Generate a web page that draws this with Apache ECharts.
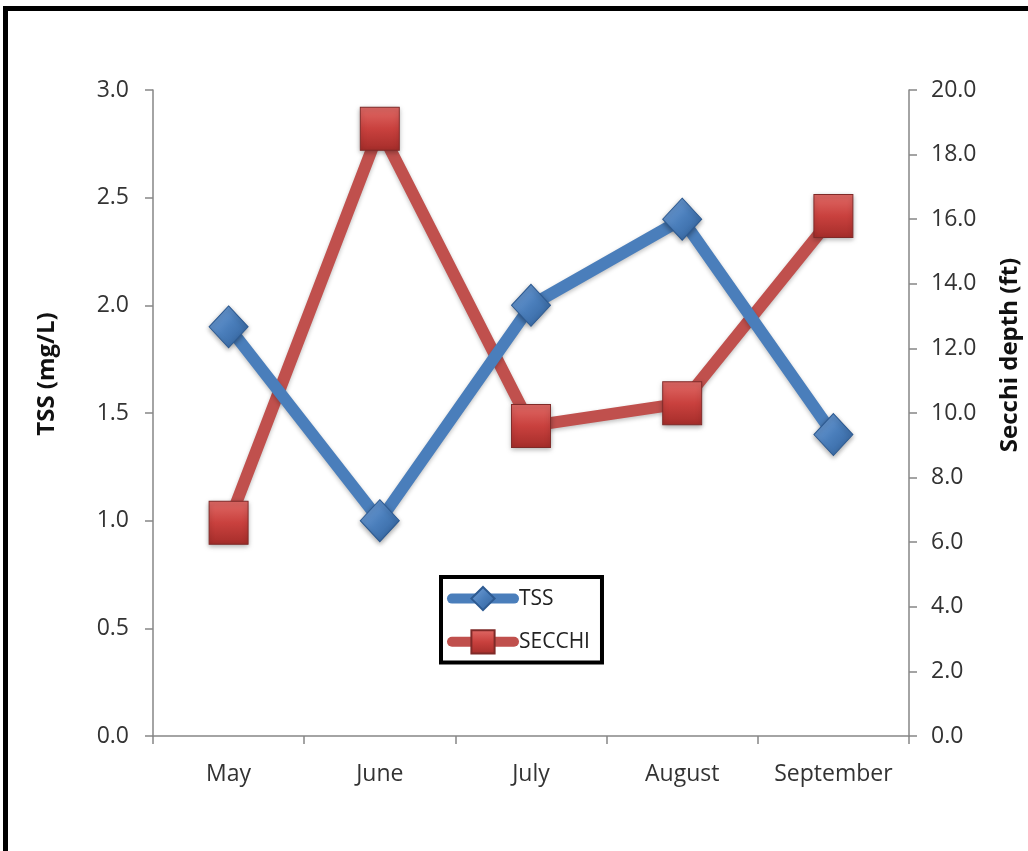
<!DOCTYPE html>
<html><head><meta charset="utf-8">
<script src="https://cdn.jsdelivr.net/npm/echarts@6/dist/echarts.min.js"></script>
<style>
html,body{margin:0;padding:0;width:1028px;height:851px;overflow:hidden;background:#fff;}
#frame{position:absolute;left:3px;top:6px;width:1100px;height:950px;border:5px solid #000;box-sizing:border-box;}
#c{position:absolute;left:0;top:0;width:1028px;height:851px;}
</style></head>
<body>
<div id="frame"></div>
<div id="c"></div>
<script>
const months = ['May','June','July','August','September'];
const tss = [1.9, 1.0, 2.0, 2.4, 1.4];
const secchi = [6.6, 18.8, 9.6, 10.3, 16.1];
const leftTicks = {min:0, max:3, interval:0.5};
const rightTicks = {min:0, max:20, interval:2};
const leftTitle = 'TSS (mg/L)';
const rightTitle = 'Secchi depth (ft)';

const chart = echarts.init(document.getElementById('c'));
const font = "'Open Sans', 'Liberation Sans', sans-serif";
const axisGray = '#868686';
const labelColor = '#333';
const blueGrad = new echarts.graphic.LinearGradient(0,0,1,1,[{offset:0,color:'#7aa6dc'},{offset:0.5,color:'#4a7ebb'},{offset:1,color:'#2f5f99'}]);
const redGrad = new echarts.graphic.LinearGradient(0,0,0,1,[{offset:0,color:'#e06a66'},{offset:0.5,color:'#c9413e'},{offset:1,color:'#a52d2a'}]);
chart.setOption({
  animation:false,
  textStyle:{fontFamily:font},
  grid:{left:153,right:119,top:90,bottom:115,outerBoundsMode:'none',containLabel:false},
  legend:{
    left:441, top:577, orient:'vertical',
    backgroundColor:'#fff',
    borderColor:'#000', borderWidth:4, borderRadius:0,
    padding:[9,12,8,6],
    itemGap:18,
    itemWidth:62, itemHeight:29,
    lineStyle:{width:10,cap:'round'},
    textStyle:{fontSize:21,color:'#222',fontFamily:font},
    data:['TSS','SECCHI']
  },
  graphic:[
    {type:'text', x:47, y:374, rotation:Math.PI/2,
     style:{text:leftTitle, font:"bold 24px 'Open Sans', sans-serif", fill:'#111', textAlign:'center', textVerticalAlign:'middle'}},
    {type:'text', x:1010, y:355, rotation:Math.PI/2,
     style:{text:rightTitle, font:"bold 24px 'Open Sans', sans-serif", fill:'#111', textAlign:'center', textVerticalAlign:'middle'}}
  ],
  xAxis:{
    type:'category', data:months, boundaryGap:true,
    axisLine:{lineStyle:{color:axisGray,width:1.5}},
    axisTick:{show:true,interval:0,length:8,lineStyle:{color:axisGray,width:1.5}},
    axisLabel:{interval:0,fontSize:23,color:labelColor,margin:27}
  },
  yAxis:[
    {type:'value', min:leftTicks.min, max:leftTicks.max, interval:leftTicks.interval, position:'left',
     axisLine:{show:true,lineStyle:{color:axisGray,width:1.5}},
     axisTick:{show:true,length:8,lineStyle:{color:axisGray,width:1.5}},
     splitLine:{show:false},
     axisLabel:{fontSize:23,color:labelColor,margin:24,formatter:v=>v.toFixed(1)}},
    {type:'value', min:rightTicks.min, max:rightTicks.max, interval:rightTicks.interval, position:'right',
     axisLine:{show:true,lineStyle:{color:axisGray,width:1.5}},
     axisTick:{show:true,length:8,lineStyle:{color:axisGray,width:1.5}},
     splitLine:{show:false},
     axisLabel:{fontSize:23,color:labelColor,margin:22,formatter:v=>v.toFixed(1)}}
  ],
  series:[
    {name:'TSS', type:'line', yAxisIndex:0, data:tss, symbol:'diamond', symbolSize:[39,42],
     lineStyle:{color:'#4a7ebb',width:12,shadowColor:'rgba(0,0,0,0.25)',shadowBlur:4,shadowOffsetY:2},
     itemStyle:{color:blueGrad,borderColor:'#2d5a91',borderWidth:1,shadowColor:'rgba(0,0,0,0.35)',shadowBlur:5,shadowOffsetY:2},
     z:3},
    {name:'SECCHI', type:'line', yAxisIndex:1, data:secchi, symbol:'rect', symbolSize:[39,43],
     lineStyle:{color:'#c0504d',width:12,shadowColor:'rgba(0,0,0,0.25)',shadowBlur:4,shadowOffsetY:2},
     itemStyle:{color:redGrad,borderColor:'#7f2a28',borderWidth:1,shadowColor:'rgba(0,0,0,0.35)',shadowBlur:5,shadowOffsetY:2},
     z:2}
  ]
});
</script>
</body></html>
